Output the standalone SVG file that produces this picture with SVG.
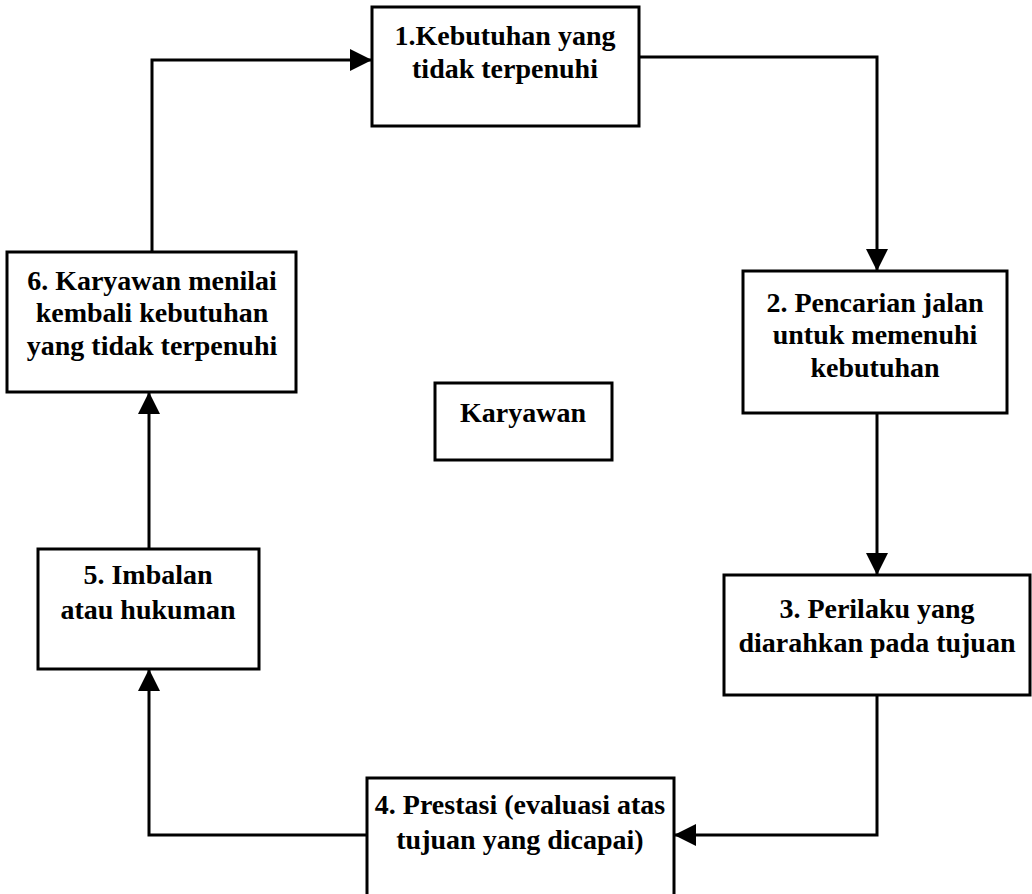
<svg xmlns="http://www.w3.org/2000/svg" width="1032" height="894" viewBox="0 0 1032 894">
<style>
.box{fill:#fff;stroke:#000;stroke-width:3}
.t{font-family:"Liberation Serif","Times New Roman",serif;font-weight:bold;font-size:28px;fill:#000;text-anchor:middle}
.c{fill:none;stroke:#000;stroke-width:3}
</style>
<defs>
<marker id="ah" markerUnits="userSpaceOnUse" markerWidth="24" markerHeight="24" refX="22" refY="11" orient="auto" viewBox="0 0 24 24">
<path d="M0,0 L22,11 L0,22 Z" fill="#000"/>
</marker>
</defs>
<rect width="1032" height="894" fill="#fff"/>
<g id="connectors">
<path class="c" d="M152 252 V60 H372" marker-end="url(#ah)"/>
<path class="c" d="M639 57 H877 V271" marker-end="url(#ah)"/>
<path class="c" d="M877 413 V575" marker-end="url(#ah)"/>
<path class="c" d="M877 695 V835 H674" marker-end="url(#ah)"/>
<path class="c" d="M367 835 H149 V669" marker-end="url(#ah)"/>
<path class="c" d="M149 549 V392" marker-end="url(#ah)"/>
</g>
<g id="n1">
<rect class="box" x="372" y="7" width="267" height="119"/>
<text class="t" x="505" y="45">1.Kebutuhan yang</text>
<text class="t" x="505" y="78">tidak terpenuhi</text>
</g>
<g id="n2">
<rect class="box" x="743" y="271" width="264" height="142"/>
<text class="t" x="875" y="312">2. Pencarian jalan</text>
<text class="t" x="875" y="344">untuk memenuhi</text>
<text class="t" x="875" y="377">kebutuhan</text>
</g>
<g id="n3">
<rect class="box" x="724" y="575" width="306" height="120"/>
<text class="t" x="877" y="618">3. Perilaku yang</text>
<text class="t" x="877" y="652">diarahkan pada tujuan</text>
</g>
<g id="n4">
<rect class="box" x="367" y="778" width="307" height="130"/>
<text class="t" x="520" y="814">4. Prestasi (evaluasi atas</text>
<text class="t" x="520" y="849">tujuan yang dicapai)</text>
</g>
<g id="n5">
<rect class="box" x="38" y="549" width="221" height="120"/>
<text class="t" x="148" y="584">5. Imbalan</text>
<text class="t" x="148" y="619">atau hukuman</text>
</g>
<g id="n6">
<rect class="box" x="7" y="252" width="289" height="140"/>
<text class="t" x="152" y="290">6. Karyawan menilai</text>
<text class="t" x="152" y="322">kembali kebutuhan</text>
<text class="t" x="152" y="355">yang tidak terpenuhi</text>
</g>
<g id="karyawan">
<rect class="box" x="435" y="383" width="177" height="77"/>
<text class="t" x="523" y="422">Karyawan</text>
</g>
</svg>
